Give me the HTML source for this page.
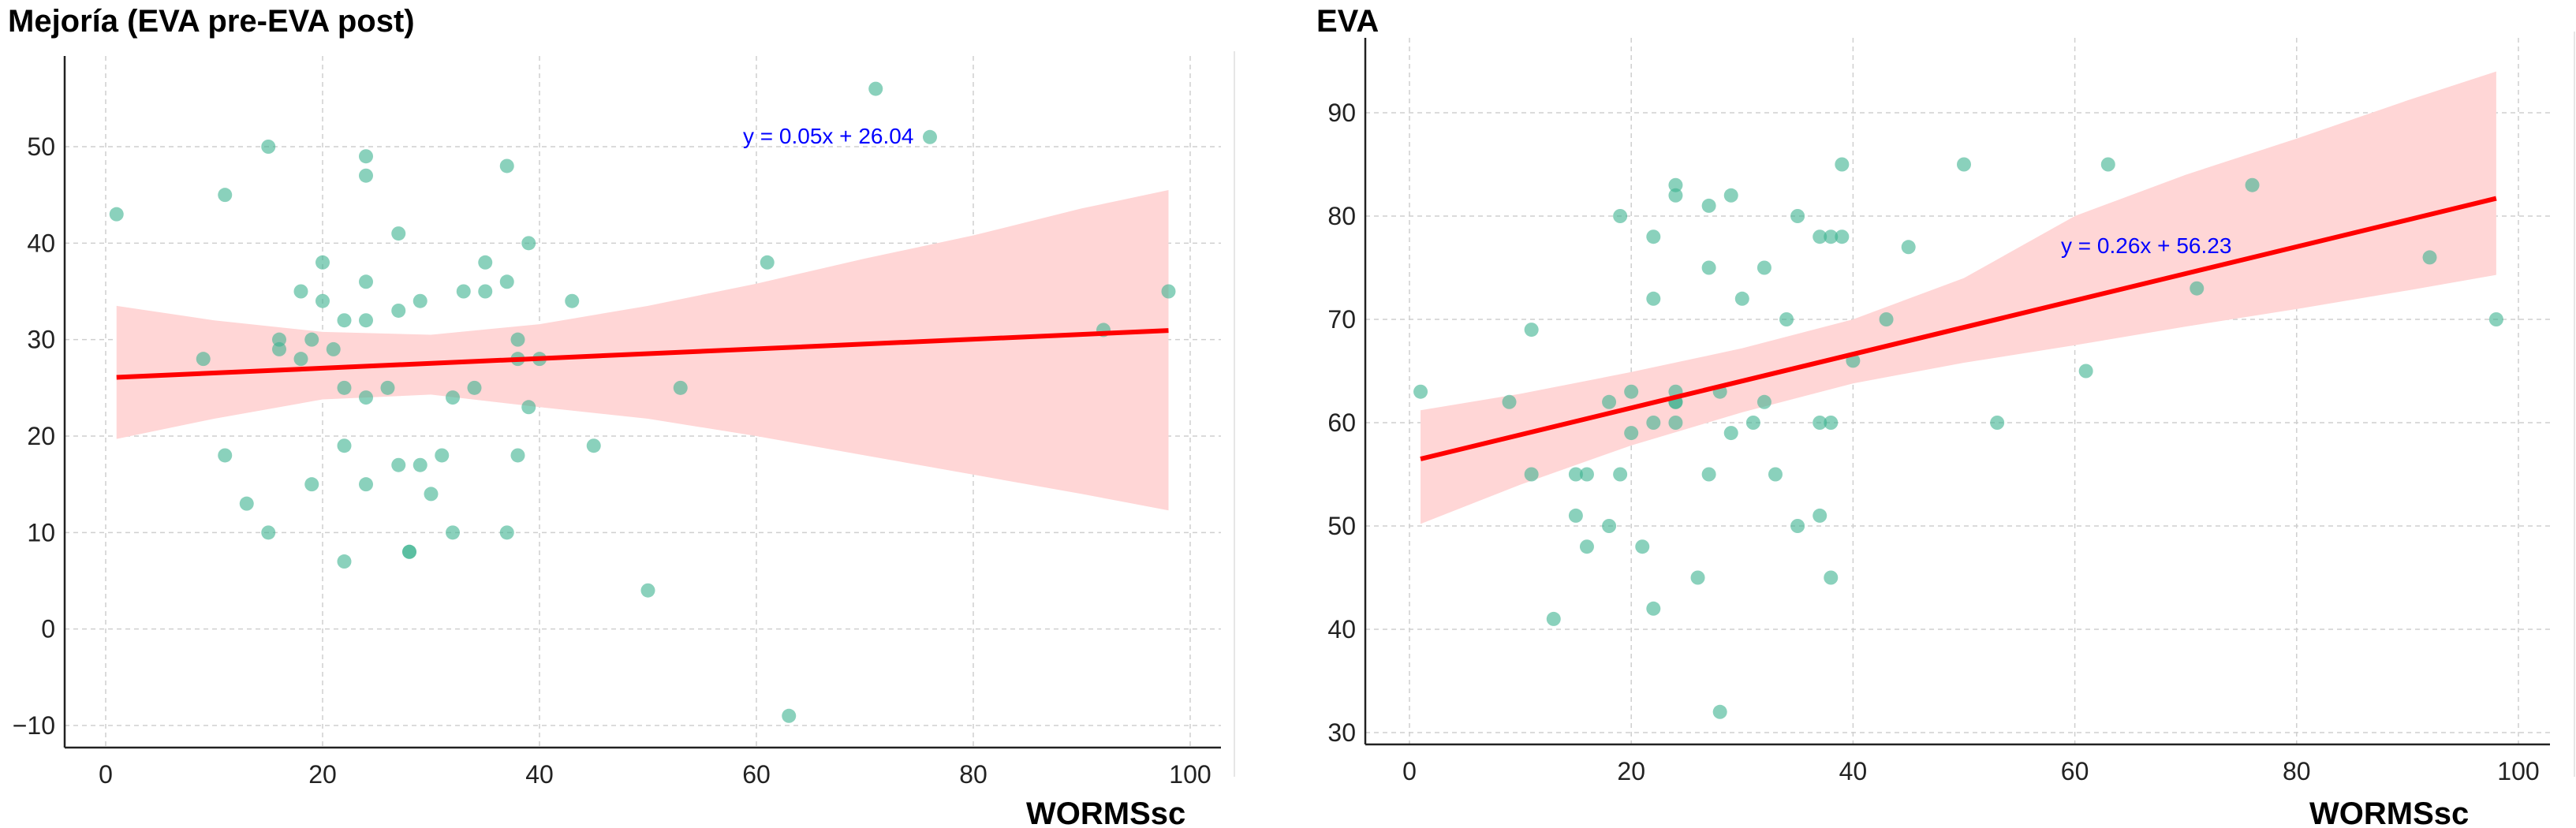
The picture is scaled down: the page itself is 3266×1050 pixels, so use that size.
<!DOCTYPE html>
<html><head><meta charset="utf-8"><style>
html,body{margin:0;padding:0;background:#fff;}
svg{display:block;font-family:"Liberation Sans",sans-serif;}
</style></head><body>
<svg id="chart" width="3266" height="1050" viewBox="0 0 3266 1050" xmlns="http://www.w3.org/2000/svg">
<text x="10" y="40" font-size="40" font-weight="bold">Mejoría (EVA pre-EVA post)</text>
<text x="1669" y="40" font-size="40" font-weight="bold">EVA</text>
<text x="1301" y="1045" font-size="40" font-weight="bold">WORMSsc</text>
<text x="2928" y="1045" font-size="40" font-weight="bold">WORMSsc</text>
<line x1="1565" y1="65" x2="1565" y2="985" stroke="#e6e6e6" stroke-width="2"/>
<line x1="3264" y1="40" x2="3264" y2="985" stroke="#e6e6e6" stroke-width="2"/>
</svg>
<script>
// Left chart data
const leftX = [1,9,11,11,13,15,15,16,16,18,18,19,19,20,20,21,22,22,22,22,24,24,24,24,24,24,26,27,27,27,28,28,29,29,30,31,32,32,33,34,35,35,37,37,37,38,38,38,39,39,40,43,45,50,53,61,63,71,76,92,98];
const leftY = [43,28,45,18,13,50,10,30,29,35,28,30,15,38,34,29,32,25,19,7,49,47,36,32,24,15,25,41,33,17,8,8,34,17,14,18,24,10,35,25,38,35,48,36,10,30,28,18,40,23,28,34,19,4,25,38,-9,56,51,31,35];
const leftFit = [0.05, 26.04];
const leftBandX = [1,10,20,30,40,50,60,70,80,90,98];
const leftBandHi = [33.5,32,30.8,30.5,31.6,33.5,35.8,38.4,40.8,43.6,45.5];
const leftBandLo = [19.7,21.8,23.8,24.3,23,21.8,20,18,16,14,12.3];
const leftXTicks = [0,20,40,60,80,100];
const leftYTicks = [-10,0,10,20,30,40,50];
// Right chart data
const rightX = [1,9,11,11,13,15,15,16,16,18,18,19,19,20,20,21,22,22,22,22,24,24,24,24,24,24,26,27,27,27,28,28,29,29,30,31,32,32,33,34,35,35,37,37,37,38,38,38,39,39,40,43,45,50,53,61,63,71,76,92,98];
const rightY = [63,62,69,55,41,55,51,55,48,62,50,80,55,63,59,48,78,72,60,42,83,82,63,62,62,60,45,81,75,55,63,32,82,59,72,60,75,62,55,70,80,50,78,60,51,78,60,45,85,78,66,70,77,85,60,65,85,73,83,76,70];
const rightFit = [0.26, 56.23];
const rightBandX = [1,10,20,30,40,50,60,70,80,90,98];
const rightBandHi = [61.2,62.8,64.9,67.2,70,74,80,84,87.5,91.2,94];
const rightBandLo = [50.2,54,57.8,61,63.8,65.8,67.5,69.3,71,72.8,74.3];
const rightXTicks = [0,20,40,60,80,100];
const rightYTicks = [30,40,50,60,70,80,90];

const NS = "http://www.w3.org/2000/svg";
const svg = document.getElementById('chart');
function mk(tag, attrs){const e=document.createElementNS(NS,tag);for(const k in attrs)e.setAttribute(k,attrs[k]);return e;}

function drawChart(p){
  const sx=v=>p.x0px+(v-0)*(p.x100px-p.x0px)/100;
  const sy=v=>p.yApx+(v-p.yA)*(p.yBpx-p.yApx)/(p.yB-p.yA);
  const g=mk('g',{});
  
  
  svg.appendChild(g);
  // grid
  p.xt.forEach(t=>{
    const l=mk('line',{x1:sx(t),x2:sx(t),y1:p.top,y2:p.bottom,stroke:'#cfcfcf','stroke-width':1.5,'stroke-dasharray':'6,5'});
    
    
    g.appendChild(l);
    const tx=mk('text',{x:sx(t),y:p.bottom+45,'font-size':32,'text-anchor':'middle',fill:'#222'});
    tx.textContent=t;
    
    
    g.appendChild(tx);
  });
  p.yt.forEach(t=>{
    const l=mk('line',{x1:p.left,x2:p.right,y1:sy(t),y2:sy(t),stroke:'#cfcfcf','stroke-width':1.5,'stroke-dasharray':'6,5'});
    
    
    g.appendChild(l);
    const tx=mk('text',{x:p.left-12,y:sy(t)+11,'font-size':32,'text-anchor':'end',fill:'#222'});
    tx.textContent=(t<0?'\u2212'+(-t):t);
    
    
    g.appendChild(tx);
  });
  // band
  let d='';
  p.bx.forEach((x,i)=>{d+=(i?'L':'M')+sx(x)+','+sy(p.bh[i]);});
  for(let i=p.bx.length-1;i>=0;i--){d+='L'+sx(p.bx[i])+','+sy(p.bl[i]);}
  const band=mk('path',{d:d+'Z',fill:'#ffd6d6'});
  
  
  g.appendChild(band);
  // points
  p.px.forEach((x,i)=>{
    const c=mk('circle',{cx:sx(x),cy:sy(p.py[i]),r:9,fill:'#3cb38f','fill-opacity':0.6});
    
    
    g.appendChild(c);
  });
  // fit line
  const xa=p.bx[0], xb=p.bx[p.bx.length-1];
  const ln=mk('line',{x1:sx(xa),y1:sy(p.fit[0]*xa+p.fit[1]),x2:sx(xb),y2:sy(p.fit[0]*xb+p.fit[1]),stroke:'#ff0000','stroke-width':6});
  
  
  g.appendChild(ln);
  const eq=mk('text',{x:p.eqx,y:p.eqy,'font-size':28,fill:'#0000ff'});
  eq.textContent='y = '+p.fit[0].toFixed(2)+'x + '+p.fit[1].toFixed(2);
  
  
  g.appendChild(eq);
  // spines
  const s1=mk('line',{x1:p.left,x2:p.left,y1:p.top,y2:p.bottom,stroke:'#222','stroke-width':2.5});
  
  
  g.appendChild(s1);
  const s2=mk('line',{x1:p.left,x2:p.right,y1:p.bottom,y2:p.bottom,stroke:'#222','stroke-width':2.5});
  
  
  g.appendChild(s2);
}
drawChart({name:'left',x0px:134,x100px:1509,yA:50,yApx:186,yB:-10,yBpx:920,left:82,right:1548,top:71,bottom:948,
  xt:leftXTicks,yt:leftYTicks,px:leftX,py:leftY,fit:leftFit,bx:leftBandX,bh:leftBandHi,bl:leftBandLo,eqx:942,eqy:182});
drawChart({name:'right',x0px:1787,x100px:3193,yA:90,yApx:143,yB:30,yBpx:929,left:1731,right:3233,top:48,bottom:944,
  xt:rightXTicks,yt:rightYTicks,px:rightX,py:rightY,fit:rightFit,bx:rightBandX,bh:rightBandHi,bl:rightBandLo,eqx:2613,eqy:321});
</script>
</body></html>
